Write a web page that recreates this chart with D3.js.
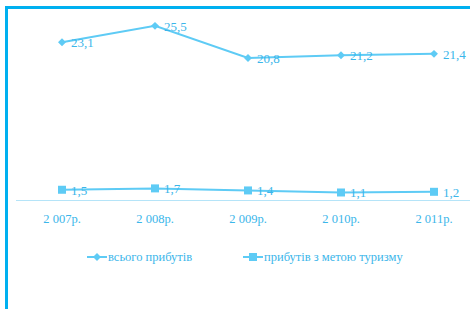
<!DOCTYPE html>
<html lang="uk">
<head>
<meta charset="utf-8">
<title>прибуття</title>
<script src="https://cdn.jsdelivr.net/npm/d3@7"></script>
<style>
    body { margin: 0; background: #fff; }
    text { font-family: "Liberation Serif", "DejaVu Serif", serif; fill: #3bb6ea; }
</style>
</head>
<body>
<svg id="chart" width="470" height="309"></svg>
<script>
// data
var years = ['2 007р.', '2 008р.', '2 009р.', '2 010р.', '2 011р.'];
var totalArrivals = [23.1, 25.5, 20.8, 21.2, 21.4];
var tourismArrivals = [1.5, 1.7, 1.4, 1.1, 1.2];
var seriesNames = ['всього прибутів', 'прибутів з метою туризму'];

var lineColor = '#5ecbf5';
var frameColor = '#00b0f0';

var svg = d3.select('#chart');

// frame (left + top edge of the box)
svg.append('path')
    .attr('d', 'M6.5,309 V7.5 H470')
    .attr('fill', 'none')
    .attr('stroke', frameColor)
    .attr('stroke-width', 3);

var x = d3.scaleBand().domain(years).range([15.5, 480.5]);
var y = d3.scaleLinear().domain([0, 28]).range([200, 8.8]);

// category axis
var axis = svg.append('g')
    .attr('transform', 'translate(0,200)')
    .call(d3.axisBottom(x).tickSize(0).tickPadding(14));
axis.select('.domain').attr('stroke', '#b5e4f8').attr('stroke-width', 1);
axis.selectAll('text')
    .style('font-family', '"Liberation Serif", serif')
    .style('font-size', '12.5px')
    .attr('fill', '#3bb6ea');

var diamond = d3.symbolDiamond2 || d3.symbolDiamond;
var cx = function (d, i) { return x(years[i]) + x.bandwidth() / 2; };
var line = d3.line().x(cx).y(function (d) { return y(d); });

function drawSeries(values, shape, size) {
    var g = svg.append('g');
    g.append('path')
        .datum(values)
        .attr('d', line)
        .attr('fill', 'none')
        .attr('stroke', lineColor)
        .attr('stroke-width', 2);
    g.selectAll('.m').data(values).enter()
        .append('path')
        .attr('transform', function (d, i) { return 'translate(' + cx(d, i) + ',' + y(d) + ')'; })
        .attr('d', d3.symbol().type(shape).size(size))
        .attr('fill', lineColor);
    g.selectAll('.lbl').data(values).enter()
        .append('text')
        .attr('x', function (d, i) { return cx(d, i) + 9; })
        .attr('y', function (d) { return y(d) + 5; })
        .style('font-size', '13px')
        .text(function (d) { return String(d).replace('.', ','); });
}

drawSeries(totalArrivals, diamond, 40);
drawSeries(tourismArrivals, d3.symbolSquare, 64);

// legend
var legend = [
    { x: 87, name: seriesNames[0], shape: diamond, size: 40 },
    { x: 243, name: seriesNames[1], shape: d3.symbolSquare, size: 64 }
];
var lg = svg.selectAll('.leg').data(legend).enter().append('g')
    .attr('transform', function (d) { return 'translate(' + d.x + ',257)'; });
lg.append('line')
    .attr('x1', 0).attr('x2', 20)
    .attr('stroke', lineColor).attr('stroke-width', 2);
lg.append('path')
    .attr('transform', 'translate(10,0)')
    .attr('d', function (d) { return d3.symbol().type(d.shape).size(d.size)(); })
    .attr('fill', lineColor);
lg.append('text')
    .attr('x', 21)
    .attr('y', 4)
    .style('font-size', '12.5px')
    .text(function (d) { return d.name; });
</script>
</body>
</html>
